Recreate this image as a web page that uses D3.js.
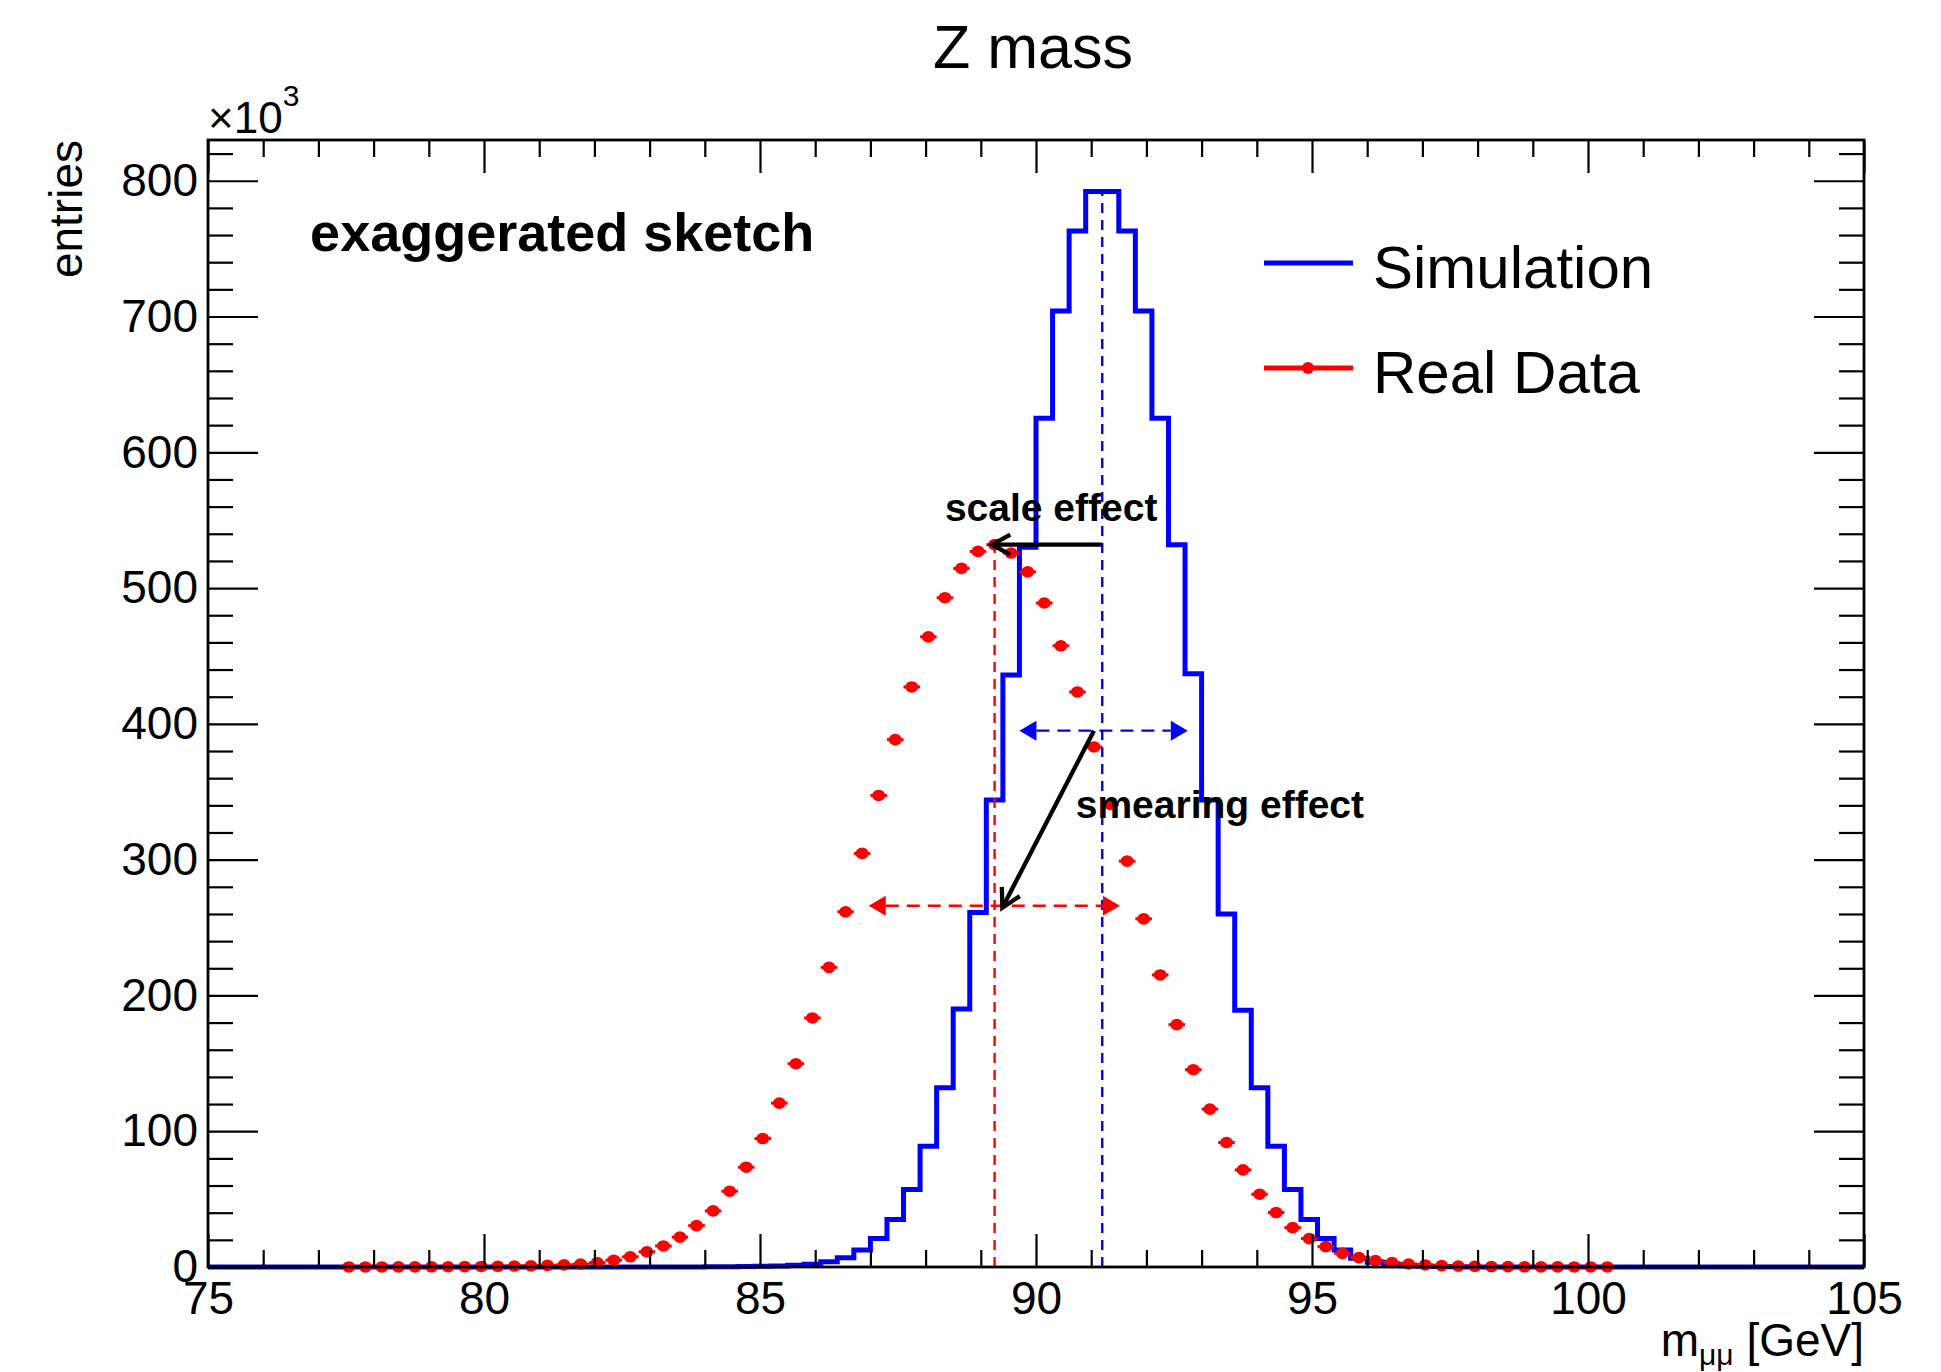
<!DOCTYPE html>
<html><head><meta charset="utf-8">
<script src="https://cdn.jsdelivr.net/npm/d3@7"></script>
<style>
body{margin:0;background:#fff}
svg{display:block}
text{font-family:"Liberation Sans",Arial,Helvetica,sans-serif;fill:#000}
</style>
</head><body>
<svg id="chart" width="1941" height="1372"></svg>
<script>
// ---------------- data ----------------
const titleText = "Z mass";
const xLabel = "m";
const yLabel = "entries";
const xTicksMajor = [75, 80, 85, 90, 95, 100, 105];
const yTicksMajor = [0, 100, 200, 300, 400, 500, 600, 700, 800];
const xDomain = [75, 105];
const yDomain = [0, 830];

// Simulation histogram (blue), bin edges in GeV, contents in units of 10^3 entries
const simBinEdges = [75.0,75.3,75.6,75.9,76.2,76.5,76.8,77.1,77.4,77.7,
  78.0,78.3,78.6,78.9,79.2,79.5,79.8,80.1,80.4,80.7,
  81.0,81.3,81.6,81.9,82.2,82.5,82.8,83.1,83.4,83.7,
  84.0,84.3,84.6,84.9,85.2,85.5,85.8,86.1,86.4,86.7,
  87.0,87.3,87.6,87.9,88.2,88.5,88.8,89.1,89.4,89.7,
  90.0,90.3,90.6,90.9,91.2,91.5,91.8,92.1,92.4,92.7,
  93.0,93.3,93.6,93.9,94.2,94.5,94.8,95.1,95.4,95.7,
  96.0,96.3,96.6,96.9,97.2,97.5,97.8,98.1,98.4,98.7,
  99.0,99.3,99.6,99.9,100.2,100.5,100.8,101.1,101.4,101.7,
  102.0,102.3,102.6,102.9,103.2,103.5,103.8,104.1,104.4,104.7,105.0];
const simCounts = [0,0,0,0,0,0,0,0,0,0,
  0,0,0,0,0,0,0,0,0,0,
  0,0,0,0,0,0,0,0,0,0,
  0.1,0.2,0.3,0.5,0.8,1.2,2.0,3.9,6.9,12.5,
  21,35,57,89,132,190,261,344,436,530,
  625,704,763,792,792,763,704,625,532,437,
  344,260,189,132,89,57,35,21,12.5,6.5,
  3.5,1.8,1.0,0.5,0.3,0.1,0,0,0,0,
  0,0,0,0,0,0,0,0,0,0,
  0,0,0,0,0,0,0,0,0,0];

// Real data points (red), bin centres and contents (10^3)
const dataMass = [77.55,77.85,78.15,78.45,78.75,79.05,79.35,79.65,79.95,80.25,
  80.55,80.85,81.15,81.45,81.75,82.05,82.35,82.65,82.95,83.25,
  83.55,83.85,84.15,84.45,84.75,85.05,85.35,85.65,85.95,86.25,
  86.55,86.85,87.15,87.45,87.75,88.05,88.35,88.65,88.95,89.25,
  89.55,89.85,90.15,90.45,90.75,91.05,91.35,91.65,91.95,92.25,
  92.55,92.85,93.15,93.45,93.75,94.05,94.35,94.65,94.95,95.25,
  95.55,95.85,96.15,96.45,96.75,97.05,97.35,97.65,97.95,98.25,
  98.55,98.85,99.15,99.45,99.75,100.05,100.35];
const dataCounts = [0.02,0.03,0.05,0.07,0.1,0.15,0.2,0.3,0.4,0.5,
  0.7,0.9,1.2,1.6,2.1,3.2,5.0,7.5,11.2,15.5,
  22,30.5,41.3,55.8,73.5,94.6,120.7,149.7,183.4,220.7,
  261.6,304.6,347.3,388.4,427.2,464.1,492.9,514.5,527,532,
  525.8,512,489,457.5,423.5,383,340.7,298.9,256.4,215.1,
  178.5,145.3,116.3,91.7,71.5,53.6,40.1,29,20.9,15,
  10.1,6.9,4.7,3.2,2.2,1.5,1.0,0.7,0.5,0.35,
  0.25,0.15,0.1,0.07,0.05,0.03,0.02];
const dataHalfBin = 0.15;

// Annotations (data coordinates)
const simPeak = {x: 91.2, top: 792};
const dataPeak = {x: 89.25, top: 532};
const simWidthArrow = {from: 89.7, to: 92.75, y: 395};
const dataWidthArrow = {from: 86.97, to: 91.52, y: 266};
const scaleArrow = {x1: 91.2, y1: 532, x2: 89.2, y2: 532};
const smearArrow = {x1: 91.05, y1: 395, x2: 89.39, y2: 264.5};
const labels = [
  {text: "exaggerated sketch", x: 76.85, y: 748, size: 54},
  {text: "scale effect", x: 88.35, y: 549.5, size: 39},
  {text: "smearing effect", x: 90.72, y: 330.5, size: 39}
];
const legendItems = [
  {name: "Simulation", color: "#0000ff", marker: false},
  {name: "Real Data", color: "#ff0000", marker: true}
];

// ---------------- layout ----------------
const L = 208, R = 1864, T = 140, B = 1267;
const svg = d3.select("#chart");
const x = d3.scaleLinear().domain(xDomain).range([L, R]);
const y = d3.scaleLinear().domain(yDomain).range([B, T]);
const BLUE = "#0000ff", RED = "#ff0000";

// title
svg.append("text").attr("x", 1033).attr("y", 68).attr("text-anchor", "middle")
  .attr("font-size", 61).text(titleText);

// ---------------- simulation histogram ----------------
const histPts = [];
simCounts.forEach((c, i) => {
  histPts.push([x(simBinEdges[i]), y(c)]);
  histPts.push([x(simBinEdges[i + 1]), y(c)]);
});
svg.append("path").attr("d", d3.line()(histPts))
  .attr("fill", "none").attr("stroke", BLUE).attr("stroke-width", 5)
  .attr("stroke-linejoin", "miter");

// dashed vertical lines
svg.append("line").attr("x1", x(simPeak.x)).attr("x2", x(simPeak.x))
  .attr("y1", y(0)).attr("y2", y(simPeak.top))
  .attr("stroke", BLUE).attr("stroke-width", 2.4).attr("stroke-dasharray", "10,7");
svg.append("line").attr("x1", x(dataPeak.x)).attr("x2", x(dataPeak.x))
  .attr("y1", y(0)).attr("y2", y(dataPeak.top))
  .attr("stroke", RED).attr("stroke-width", 2.4).attr("stroke-dasharray", "10,7");

// double-headed dashed arrows with filled triangles
function doubleArrow(a, color) {
  const g = svg.append("g");
  const x1 = x(a.from), x2 = x(a.to), yy = y(a.y);
  const hl = 17, hw = 10;
  g.append("line").attr("x1", x1 + hl).attr("x2", x2 - hl).attr("y1", yy).attr("y2", yy)
    .attr("stroke", color).attr("stroke-width", 2.4).attr("stroke-dasharray", "13,8");
  g.append("path").attr("d", `M${x1},${yy}L${x1 + hl},${yy - hw}L${x1 + hl},${yy + hw}Z`).attr("fill", color);
  g.append("path").attr("d", `M${x2},${yy}L${x2 - hl},${yy - hw}L${x2 - hl},${yy + hw}Z`).attr("fill", color);
}
doubleArrow(simWidthArrow, BLUE);
doubleArrow(dataWidthArrow, RED);

// ---------------- data points ----------------
const pts = svg.append("g");
dataMass.forEach((m, i) => {
  const cx = x(m), cy = y(dataCounts[i]);
  pts.append("line").attr("x1", x(m - dataHalfBin)).attr("x2", x(m + dataHalfBin))
    .attr("y1", cy).attr("y2", cy).attr("stroke", RED).attr("stroke-width", 3);
  pts.append("ellipse").attr("cx", cx).attr("cy", cy).attr("rx", 6.5).attr("ry", 5.8).attr("fill", RED);
});

// ---------------- black arrows ----------------
function openArrow(a) {
  const x1 = x(a.x1), y1 = y(a.y1), x2 = x(a.x2), y2 = y(a.y2);
  const ang = Math.atan2(y2 - y1, x2 - x1);
  const len = 21, spread = 0.5;
  const p1 = [x2 - len * Math.cos(ang - spread), y2 - len * Math.sin(ang - spread)];
  const p2 = [x2 - len * Math.cos(ang + spread), y2 - len * Math.sin(ang + spread)];
  svg.append("line").attr("x1", x1).attr("y1", y1).attr("x2", x2).attr("y2", y2)
    .attr("stroke", "#000").attr("stroke-width", 4.3);
  svg.append("path").attr("d", `M${p1[0]},${p1[1]}L${x2},${y2}L${p2[0]},${p2[1]}`)
    .attr("fill", "none").attr("stroke", "#000").attr("stroke-width", 4.3)
    .attr("stroke-linejoin", "miter");
}
openArrow(scaleArrow);
openArrow(smearArrow);

// annotation labels
labels.forEach(l => {
  svg.append("text").attr("x", x(l.x)).attr("y", y(l.y))
    .attr("font-size", l.size).attr("font-weight", "bold").text(l.text);
});

// ---------------- axes ----------------
const xMinor = d3.range(75, 105.001, 1).filter(v => v % 5 !== 0);
const yMinor = d3.range(0, 830, 20).filter(v => v % 100 !== 0);

function styleAxis(g) {
  g.select(".domain").remove();
  g.selectAll(".tick line").attr("stroke", "#000").attr("stroke-width", 2.2);
  g.selectAll("text").attr("font-size", 46).attr("fill", "#000")
    .attr("font-family", '"Liberation Sans",Arial,sans-serif');
}
// bottom
svg.append("g").attr("transform", `translate(0,${B})`)
  .call(d3.axisBottom(x).tickValues(xTicksMajor).tickSize(-33).tickPadding(14).tickFormat(d3.format("d")))
  .call(styleAxis);
svg.append("g").attr("transform", `translate(0,${B})`)
  .call(d3.axisBottom(x).tickValues(xMinor).tickSize(-17).tickFormat(""))
  .call(styleAxis);
// top
svg.append("g").attr("transform", `translate(0,${T})`)
  .call(d3.axisTop(x).tickValues(xTicksMajor).tickSize(-33).tickFormat(""))
  .call(styleAxis);
svg.append("g").attr("transform", `translate(0,${T})`)
  .call(d3.axisTop(x).tickValues(xMinor).tickSize(-17).tickFormat(""))
  .call(styleAxis);
// left
svg.append("g").attr("transform", `translate(${L},0)`)
  .call(d3.axisLeft(y).tickValues(yTicksMajor).tickSize(-50).tickPadding(10).tickFormat(d3.format("d")))
  .call(styleAxis);
svg.append("g").attr("transform", `translate(${L},0)`)
  .call(d3.axisLeft(y).tickValues(yMinor).tickSize(-25).tickFormat(""))
  .call(styleAxis);
// right
svg.append("g").attr("transform", `translate(${R},0)`)
  .call(d3.axisRight(y).tickValues(yTicksMajor).tickSize(-50).tickFormat(""))
  .call(styleAxis);
svg.append("g").attr("transform", `translate(${R},0)`)
  .call(d3.axisRight(y).tickValues(yMinor).tickSize(-25).tickFormat(""))
  .call(styleAxis);

// frame
svg.append("rect").attr("x", L).attr("y", T).attr("width", R - L).attr("height", B - T)
  .attr("fill", "none").attr("stroke", "#000").attr("stroke-width", 2.8);

// exponent label
const ex = svg.append("text").attr("x", L).attr("y", 133).attr("font-size", 44);
ex.append("tspan").text("\u00d710");
ex.append("tspan").attr("font-size", 30).attr("dy", -27).text("3");

// y title
svg.append("text").attr("transform", `translate(82,${T}) rotate(-90)`)
  .attr("text-anchor", "end").attr("font-size", 46).text(yLabel);

// x title
const xt = svg.append("text").attr("x", R).attr("y", 1356).attr("text-anchor", "end").attr("font-size", 46);
xt.append("tspan").text(xLabel);
xt.append("tspan").attr("font-size", 30).attr("dy", 9).text("\u03bc\u03bc");
xt.append("tspan").attr("dy", -9).text(" [GeV]");

// ---------------- legend ----------------
const legY = [263, 368];
legendItems.forEach((it, i) => {
  const g = svg.append("g");
  g.append("line").attr("x1", 1264).attr("x2", 1353).attr("y1", legY[i]).attr("y2", legY[i])
    .attr("stroke", it.color).attr("stroke-width", 5);
  if (it.marker) g.append("circle").attr("cx", 1308).attr("cy", legY[i]).attr("r", 6).attr("fill", it.color);
  g.append("text").attr("x", 1373).attr("y", legY[i] + 25).attr("font-size", 60).text(it.name);
});
</script>
</body></html>
